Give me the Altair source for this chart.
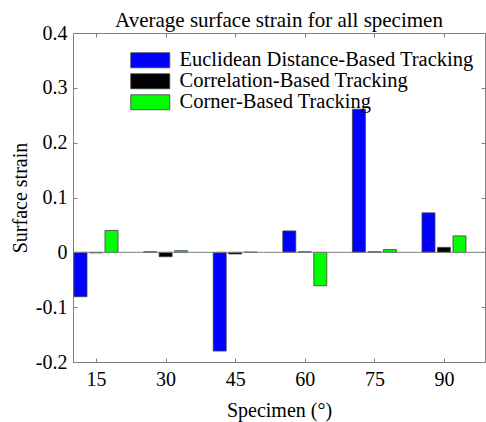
import altair as alt
import pandas as pd

specimens = [15, 30, 45, 60, 75, 90]
series = ["Euclidean Distance-Based Tracking", "Correlation-Based Tracking", "Corner-Based Tracking"]
colors = ["#0000ff", "#000000", "#00ff00"]
euclidean = [-0.081, 0.001, -0.180, 0.039, 0.261, 0.072]
correlation = [-0.001, -0.008, -0.003, 0.001, 0.001, 0.009]
corner = [0.040, 0.003, 0.0005, -0.061, 0.005, 0.030]
yticks = [-0.2, -0.1, 0, 0.1, 0.2, 0.3, 0.4]

rows = []
for idx, (name, vals) in enumerate(zip(series, [euclidean, correlation, corner])):
    for s, v in zip(specimens, vals):
        rows.append({"specimen": s, "series": name, "idx": idx, "value": v})
df = pd.DataFrame(rows)

FONT = "Liberation Serif, Times New Roman, serif"
FS = 20
W, H = 412, 329
STEP = 3.34
BW = 2.8

xscale = alt.Scale(domain=[10.04, 98.84], nice=False, zero=False)
yscale = alt.Scale(domain=[-0.2, 0.4], nice=False)

bars = alt.Chart(df).transform_calculate(
    x0=f"datum.specimen + (datum.idx - 1) * {STEP} - {BW / 2}",
    x1=f"datum.specimen + (datum.idx - 1) * {STEP} + {BW / 2}",
).mark_bar(stroke="#404040", strokeWidth=0.8).encode(
    x=alt.X("x0:Q", scale=xscale,
            axis=alt.Axis(values=specimens, title="Specimen (°)", offset=-4, tickSize=4,
                          domain=False, labelPadding=7, grid=False,
                          titleBaseline="middle", titleY=52, titlePadding=0)),
    x2="x1:Q",
    y=alt.Y("value:Q", scale=yscale,
            axis=alt.Axis(values=yticks, title="Surface strain",
                          offset=-4, tickSize=4, domain=False, labelPadding=6, grid=False,
                          labelExpr="datum.value == 0 ? '0' : toString(round(datum.value*10)/10)",
                          titleBaseline="middle", titleX=-57, titleY=H / 2, titleAngle=-90)),
    y2=alt.datum(0),
    color=alt.Color("series:N", scale=alt.Scale(domain=series, range=colors),
                    sort=series,
                    legend=alt.Legend(title=None, orient="none", legendX=67, legendY=17,
                                      symbolType="M-2.6,-1H2.6V1H-2.6Z", symbolSize=225,
                                      symbolStrokeColor="#404040", symbolStrokeWidth=0.8,
                                      symbolOpacity=1, labelOffset=19, rowPadding=0,
                                      padding=0, labelFontSize=FS + 0.5, labelFont=FONT,
                                      labelColor="#000", labelLimit=400)),
)

zero = alt.Chart(pd.DataFrame({"z": [0]})).mark_rule(color="#808080", strokeWidth=1).encode(
    y=alt.Y("z:Q", scale=yscale, axis=None)
)

top_ticks = alt.Chart(pd.DataFrame({"s": specimens})).mark_point(opacity=0).encode(
    x=alt.X("s:Q", scale=xscale,
            axis=alt.Axis(orient="top", values=specimens, labels=False, title=None, offset=-4,
                          tickSize=4, domain=False, grid=False)),
)
right_ticks = alt.Chart(pd.DataFrame({"v": yticks})).mark_point(opacity=0).encode(
    y=alt.Y("v:Q", scale=yscale,
            axis=alt.Axis(orient="right", values=yticks, labels=False,
                          title=None, offset=-4, tickSize=4, domain=False, grid=False)),
)

chart = alt.layer(bars, zero, top_ticks, right_ticks).resolve_axis(
    x="independent", y="independent"
).properties(
    width=W, height=H,
    title=alt.TitleParams("Average surface strain for all specimen", font=FONT, fontSize=21,
                          fontWeight="normal", color="#000", anchor="middle", offset=3, dy=11),
    autosize=alt.AutoSizeParams(type="none"),
    padding={"left": 73, "top": 33, "right": 1, "bottom": 60},
).configure_view(
    stroke="#808080", strokeWidth=1
).configure_axis(
    labelFont=FONT, labelFontSize=FS, labelColor="#000", titleFont=FONT, titleFontSize=FS,
    titleFontWeight="normal", titleColor="#000", tickColor="#808080", tickWidth=1
)

chart.save("out.html", embed_options={"renderer": "svg", "actions": False})
